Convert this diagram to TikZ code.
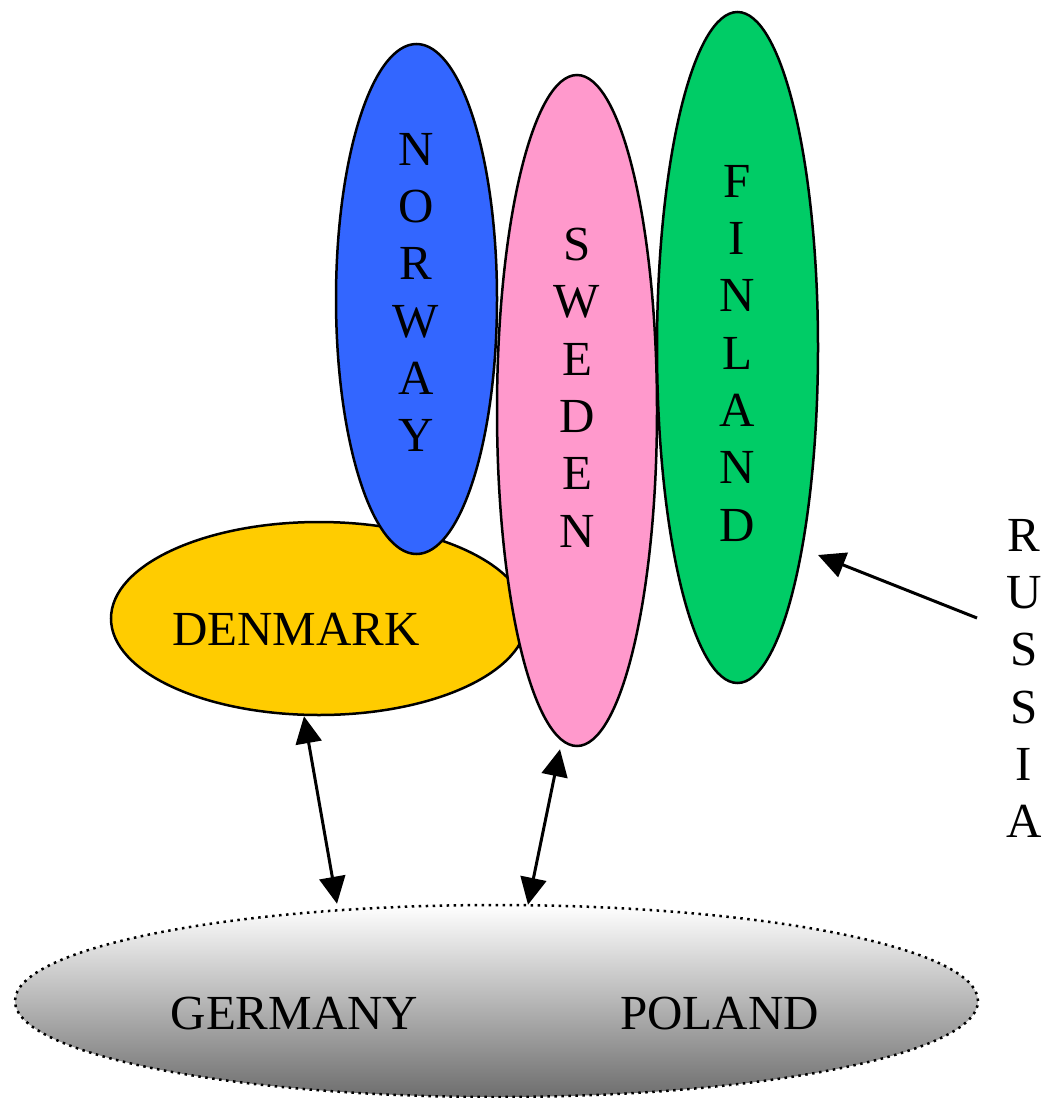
\documentclass[tikz,border=0pt]{standalone}
\usepackage{fontspec}
\setmainfont{Liberation Serif}
\usetikzlibrary{arrows.meta,calc,shapes.geometric}
\definecolor{norwayblue}{HTML}{3366FF}
\definecolor{swedenpink}{HTML}{FF99CC}
\definecolor{finlandgreen}{HTML}{00CC66}
\definecolor{denmarkyellow}{HTML}{FFCC00}
\definecolor{germanygray}{RGB}{110,110,110}
\tikzset{
  country/.style={ellipse, draw=black, line width=2.5pt, inner sep=0pt},
  lbl/.style={font=\fontsize{49}{57.3}\selectfont, inner sep=0pt, align=center, text=black},
  link/.style={line width=3pt, {Triangle[length=27pt,width=26pt]}-{Triangle[length=27pt,width=26pt]}},
  onelink/.style={line width=3pt, -{Triangle[length=27pt,width=26pt]}},
}
\begin{document}
\begin{tikzpicture}[x=1pt,y=-1pt]
\useasboundingbox (0,0) rectangle (1051,1098);
% Germany / Poland
\node[ellipse, draw=black, line width=2.5pt, dash pattern=on 2.5pt off 4.5pt,
      top color=white, bottom color=germanygray, inner sep=0pt,
      minimum width=963pt, minimum height=192pt] (gp) at (496.5,1001) {};
\node[lbl, anchor=base] (ger) at (294.5,1029) {GERMANY};
\node[lbl, anchor=base] (pol) at (719.5,1029) {POLAND};
% Denmark
\node[country, fill=denmarkyellow, minimum width=416pt, minimum height=193pt] (dk) at (319,618.5) {};
\node[lbl, anchor=base] (dkl) at (296,645) {DENMARK};
% Norway
\node[country, fill=norwayblue, minimum width=161pt, minimum height=510pt] (no) at (416.5,299) {};
\node[lbl, anchor=north] (nol) at (416,133) {N\\O\\R\\W\\A\\Y};
% Sweden
\node[country, fill=swedenpink, minimum width=160pt, minimum height=671pt] (se) at (577,410.5) {};
\node[lbl, anchor=north] (sel) at (577,228) {S\\W\\E\\D\\E\\N};
% Finland
\node[country, fill=finlandgreen, minimum width=161pt, minimum height=671pt] (fi) at (737.5,347.5) {};
\node[lbl, anchor=north] (fil) at (737,165) {F\\I\\N\\L\\A\\N\\D};
% Russia
\node[lbl, anchor=north] (ru) at (1024,519) {R\\U\\S\\S\\I\\A};
\coordinate (rutail) at (977,618);
% connectors
\draw[link] ($(dk.south)+(-15,0)$) -- ($(gp.north)+(-159.5,0)$);
\draw[link] ($(se.south)+(-17,2)$) -- ($(gp.north)+(31.5,1)$);
\draw[onelink] (rutail) -- ($(fi.center)+(80.5,207.5)$);
\end{tikzpicture}
\end{document}
